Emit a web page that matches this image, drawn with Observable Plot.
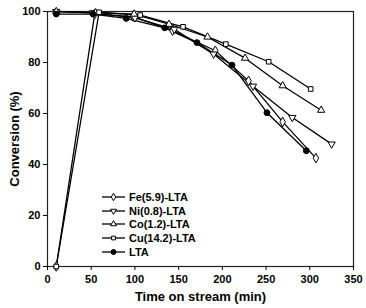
<!DOCTYPE html>
<html>
<head>
<meta charset="utf-8">
<script src="https://cdn.jsdelivr.net/npm/d3@7"></script>
<script src="https://cdn.jsdelivr.net/npm/@observablehq/plot@0.6"></script>
<style>
  html, body { margin: 0; padding: 0; background: #fff; }
  #wrap { position: relative; width: 366px; height: 308px; font-family: "Liberation Sans", Arial, sans-serif; }
  #legend { position: absolute; left: 101px; top: 190px; font-weight: bold; font-size: 11px; color: #000; }
  #legend .row { display: flex; align-items: center; height: 13.7px; }
  #legend svg { display: block; margin-right: 3px; }
</style>
</head>
<body>
<div id="wrap"><div id="legend"></div></div>
<script>
// Series names
const seriesNames = ["Fe(5.9)-LTA", "Ni(0.8)-LTA", "Co(1.2)-LTA", "Cu(14.2)-LTA", "LTA"];

// Time on stream (min) and conversion (%) per series
const feTime = [10, 54, 98, 143, 192, 230, 269, 307];
const feConv = [0, 99, 98, 92.5, 84.6, 72.8, 56.7, 42.5];

const niTime = [10, 52, 100, 145, 190, 235, 280, 325];
const niConv = [100, 99.5, 97.5, 93, 83.3, 70.7, 58.4, 48];

const coTime = [10, 55, 99, 139, 183, 226, 269, 313];
const coConv = [100, 99.5, 99, 95, 90, 81.7, 70.9, 61.3];

const cuTime = [10, 59, 106, 155, 204, 253, 301];
const cuConv = [0, 99.7, 98.6, 94, 87.2, 80.3, 69.6];

const ltaTime = [10, 52, 90, 134, 171, 211, 251, 296];
const ltaConv = [99, 99, 97.3, 93.6, 87.8, 79, 60.3, 45.4];

// Axis ticks
const xTicks = [0, 50, 100, 150, 200, 250, 300, 350];
const yTicks = [0, 20, 40, 60, 80, 100];

const xLabel = "Time on stream (min)";
const yLabel = "Conversion (%)";

const times = [feTime, niTime, coTime, cuTime, ltaTime];
const convs = [feConv, niConv, coConv, cuConv, ltaConv];
const symbols = ["diamond", "triangle", "triangle", "square", "circle"];
const rotations = [0, 180, 0, 0, 0];
const fills = ["white", "white", "white", "white", "black"];
const dotR = [2.9, 2.7, 2.7, 2.6, 2.9];
const legendR = [2.3, 2.2, 2.2, 2.1, 2.5];

const rows = [];
seriesNames.forEach((s, i) => {
  times[i].forEach((t, j) => rows.push({series: s, t, c: convs[i][j], idx: i}));
});

const marks = [
  Plot.frame({stroke: "#222", strokeWidth: 1.2}),
  Plot.axisX({ticks: xTicks, tickSize: 4, tickPadding: 5, label: xLabel, labelAnchor: "center", labelArrow: "none", labelOffset: 34, fontWeight: "bold"}),
  Plot.axisY({ticks: yTicks, tickSize: 4, tickPadding: 3, label: yLabel, labelAnchor: "center", labelArrow: "none", labelOffset: 38, fontWeight: "bold"}),
  Plot.line(rows, {x: "t", y: "c", z: "series", stroke: "black", strokeWidth: 1.3})
];
seriesNames.forEach((s, i) => {
  marks.push(Plot.dot(rows.filter(d => d.idx === i), {
    x: "t", y: "c", symbol: () => symbols[i], rotate: rotations[i],
    r: dotR[i], fill: fills[i], stroke: "black", strokeWidth: 1
  }));
});

const chart = Plot.plot({
  width: 366,
  height: 308,
  marginLeft: 47,
  marginRight: 13,
  marginTop: 11,
  marginBottom: 42,
  x: {domain: [0, 350]},
  y: {domain: [0, 100]},
  symbol: {type: "identity"},
  style: {fontFamily: "'Liberation Sans', Arial, sans-serif", fontSize: "11px", fontWeight: "bold", color: "black", background: "white"},
  marks
});
chart.querySelectorAll("[aria-label='x-axis label'] text, [aria-label='y-axis label'] text").forEach(t => t.setAttribute("font-size", "13px"));
document.getElementById("wrap").prepend(chart);

// Legend
const legend = document.getElementById("legend");
const symMap = {diamond: d3.symbolDiamond, triangle: d3.symbolTriangle, square: d3.symbolSquare, circle: d3.symbolCircle};
seriesNames.forEach((s, i) => {
  const row = document.createElement("div");
  row.className = "row";
  const svg = d3.create("svg").attr("width", 25).attr("height", 10);
  svg.append("line").attr("x1", 1).attr("x2", 24).attr("y1", 5).attr("y2", 5).attr("stroke", "black").attr("stroke-width", 1.3);
  const r = legendR[i];
  svg.append("path")
    .attr("d", d3.symbol(symMap[symbols[i]], Math.PI * r * r)())
    .attr("transform", `translate(12.5,5) rotate(${rotations[i]})`)
    .attr("fill", fills[i]).attr("stroke", "black").attr("stroke-width", 1);
  row.appendChild(svg.node());
  const label = document.createElement("span");
  label.textContent = s;
  row.appendChild(label);
  legend.appendChild(row);
});
</script>
</body>
</html>
